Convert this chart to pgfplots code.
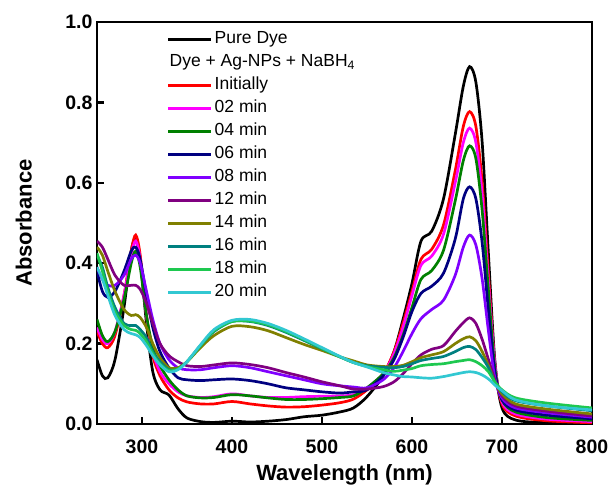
\documentclass[border=0pt]{standalone}
\usepackage{fontspec}
\setmainfont{Liberation Sans}
\usepackage{pgfplots}
\usepackage{pgfplotstable}
\pgfplotsset{compat=1.18}
\definecolor{cRed}{RGB}{255,0,0}
\definecolor{cMag}{RGB}{255,0,255}
\definecolor{cGreen}{RGB}{0,128,0}
\definecolor{cNavy}{RGB}{0,0,128}
\definecolor{cViolet}{RGB}{128,0,255}
\definecolor{cPurple}{RGB}{128,0,128}
\definecolor{cOlive}{RGB}{128,128,0}
\definecolor{cTeal}{RGB}{0,128,128}
\definecolor{cLime}{RGB}{30,200,80}
\definecolor{cCyan}{RGB}{50,200,210}

% wavelength (nm) and absorbance of each spectrum
\pgfplotstableread{
wl  bk    rd    mg    gr    nv    vi    pu    ol    tl    g2    cy
250 0.160 0.230 0.240 0.260 0.380 0.390 0.455 0.440 0.420 0.425 0.390
256 0.120 0.200 0.210 0.220 0.330 0.360 0.440 0.420 0.390 0.380 0.360
262 0.115 0.190 0.200 0.205 0.315 0.345 0.410 0.380 0.340 0.330 0.320
270 0.160 0.220 0.230 0.230 0.330 0.345 0.370 0.330 0.290 0.280 0.270
280 0.290 0.320 0.320 0.310 0.380 0.370 0.345 0.285 0.250 0.245 0.235
288 0.430 0.430 0.420 0.400 0.430 0.410 0.345 0.270 0.245 0.235 0.225
293 0.460 0.470 0.455 0.430 0.440 0.420 0.345 0.272 0.245 0.233 0.222
298 0.410 0.420 0.410 0.390 0.410 0.400 0.335 0.265 0.235 0.225 0.215
305 0.250 0.270 0.270 0.270 0.320 0.330 0.300 0.240 0.215 0.205 0.195
312 0.130 0.170 0.180 0.190 0.240 0.260 0.250 0.200 0.180 0.175 0.170
320 0.085 0.120 0.130 0.145 0.180 0.200 0.200 0.165 0.155 0.150 0.147
330 0.072 0.085 0.100 0.110 0.140 0.160 0.170 0.140 0.135 0.133 0.130
340 0.038 0.065 0.080 0.085 0.115 0.140 0.155 0.140 0.137 0.137 0.135
350 0.015 0.055 0.070 0.070 0.110 0.135 0.145 0.155 0.155 0.155 0.155
365 0.006 0.050 0.066 0.065 0.108 0.135 0.143 0.190 0.195 0.195 0.197
380 0.004 0.050 0.068 0.066 0.110 0.140 0.147 0.220 0.230 0.232 0.235
400 0.007 0.056 0.075 0.073 0.112 0.145 0.152 0.243 0.255 0.255 0.258
420 0.005 0.050 0.070 0.070 0.108 0.140 0.148 0.242 0.255 0.256 0.260
440 0.007 0.045 0.066 0.065 0.100 0.130 0.140 0.232 0.245 0.247 0.250
460 0.011 0.042 0.066 0.061 0.090 0.120 0.128 0.215 0.228 0.230 0.233
480 0.018 0.043 0.068 0.061 0.085 0.110 0.117 0.198 0.208 0.210 0.212
500 0.022 0.047 0.069 0.063 0.080 0.100 0.105 0.183 0.187 0.188 0.190
520 0.030 0.053 0.070 0.066 0.077 0.095 0.095 0.167 0.167 0.167 0.168
535 0.040 0.062 0.073 0.070 0.080 0.092 0.087 0.157 0.153 0.153 0.153
550 0.068 0.085 0.090 0.090 0.085 0.090 0.087 0.147 0.145 0.143 0.142
568 0.120 0.125 0.125 0.125 0.120 0.110 0.093 0.143 0.141 0.135 0.128
580 0.180 0.180 0.175 0.165 0.160 0.140 0.105 0.143 0.140 0.131 0.122
590 0.260 0.250 0.240 0.220 0.215 0.180 0.125 0.146 0.143 0.134 0.118
600 0.350 0.330 0.320 0.290 0.280 0.225 0.150 0.155 0.150 0.138 0.117
610 0.455 0.410 0.395 0.360 0.325 0.262 0.172 0.165 0.158 0.145 0.115
622 0.480 0.435 0.418 0.382 0.343 0.285 0.186 0.172 0.163 0.148 0.114
635 0.560 0.495 0.472 0.432 0.375 0.308 0.195 0.180 0.168 0.150 0.118
648 0.720 0.630 0.600 0.555 0.460 0.370 0.230 0.200 0.180 0.155 0.124
657 0.840 0.740 0.700 0.655 0.560 0.440 0.252 0.212 0.190 0.158 0.128
664 0.889 0.777 0.736 0.692 0.590 0.470 0.264 0.217 0.193 0.160 0.130
671 0.850 0.740 0.700 0.660 0.560 0.445 0.250 0.207 0.185 0.155 0.128
678 0.700 0.600 0.570 0.530 0.450 0.360 0.210 0.180 0.165 0.145 0.122
685 0.420 0.370 0.350 0.330 0.280 0.230 0.160 0.145 0.140 0.130 0.112
692 0.160 0.150 0.150 0.140 0.130 0.115 0.110 0.105 0.105 0.105 0.097
700 0.040 0.050 0.055 0.060 0.060 0.065 0.070 0.075 0.080 0.085 0.083
715 0.010 0.020 0.025 0.030 0.035 0.040 0.045 0.050 0.058 0.065 0.060
750 0.003 0.008 0.012 0.016 0.022 0.028 0.032 0.037 0.045 0.052 0.045
800 0.000 0.003 0.006 0.009 0.013 0.017 0.020 0.025 0.033 0.040 0.035
}\spectra

\begin{document}
\begin{tikzpicture}
\useasboundingbox (-97pt,-67pt) rectangle (513pt,424pt);
\begin{axis}[
  at={(0,0)}, anchor=south west,
  scale only axis,
  width=495pt, height=402pt,
  xmin=250, xmax=800,
  ymin=0, ymax=1.0,
  xtick={300,400,500,600,700,800},
  ytick={0,0.2,0.4,0.6,0.8,1.0},
  yticklabel style={/pgf/number format/fixed, /pgf/number format/fixed zerofill, /pgf/number format/precision=1},
  /pgf/number format/assume math mode=true,
  tick label style={font=\bfseries\fontsize{19.5}{20}\selectfont},
  xticklabel style={yshift=-12pt},
  yticklabel style={xshift=-1pt},
  tick align=inside,
  xtick pos=bottom, ytick pos=left,
  major tick length=7.5pt,
  every tick/.style={line width=2.5pt, black},
  axis line style={line width=2.7pt},
  xlabel={Wavelength (nm)},
  ylabel={Absorbance},
  xlabel style={font=\bfseries\fontsize{22}{24}\selectfont, at={(axis description cs:0.5,-0.127)}, anchor=center},
  ylabel style={font=\bfseries\fontsize{22}{24}\selectfont, at={(axis description cs:-0.148,0.5)}, anchor=center},
  legend cell align=left,
  legend image code/.code={\draw[#1] (0pt,0pt) -- (43pt,0pt);},
  legend style={at={(axis description cs:0.141,0.977)}, anchor=north west,
    draw=none, fill=none, inner sep=0pt, row sep=6.7pt, column sep=0pt,
    font=\fontsize{17.5}{18}\selectfont,
    nodes={inner xsep=2pt, inner ysep=0pt, text height=12.5pt, text depth=3.8pt}},
  every axis plot/.append style={line width=2.7pt, smooth, tension=0.5},
]
\addplot[black] table[x=wl,y=bk] {\spectra};
\addlegendentry{Pure Dye}
\addlegendimage{empty legend}
\addlegendentry{\hspace*{-45pt}Dye + Ag-NPs + NaBH\textsubscript{4}}
\addplot[cRed] table[x=wl,y=rd] {\spectra};
\addlegendentry{Initially}
\addplot[cMag] table[x=wl,y=mg] {\spectra};
\addlegendentry{02 min}
\addplot[cGreen] table[x=wl,y=gr] {\spectra};
\addlegendentry{04 min}
\addplot[cNavy] table[x=wl,y=nv] {\spectra};
\addlegendentry{06 min}
\addplot[cViolet] table[x=wl,y=vi] {\spectra};
\addlegendentry{08 min}
\addplot[cPurple] table[x=wl,y=pu] {\spectra};
\addlegendentry{12 min}
\addplot[cOlive] table[x=wl,y=ol] {\spectra};
\addlegendentry{14 min}
\addplot[cTeal] table[x=wl,y=tl] {\spectra};
\addlegendentry{16 min}
\addplot[cLime] table[x=wl,y=g2] {\spectra};
\addlegendentry{18 min}
\addplot[cCyan] table[x=wl,y=cy] {\spectra};
\addlegendentry{20 min}
\end{axis}
\end{tikzpicture}
\end{document}
